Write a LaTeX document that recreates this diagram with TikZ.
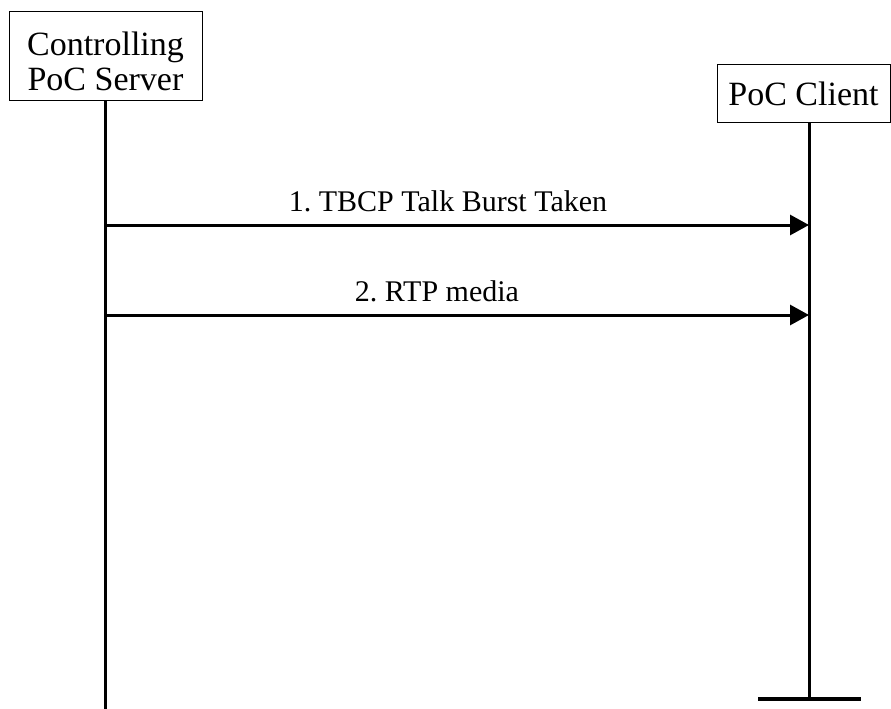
\documentclass[tikz,border=0pt]{standalone}
\usepackage{fontspec}
\setmainfont{Liberation Serif}
\usetikzlibrary{arrows.meta}
\frenchspacing
\begin{document}
\begin{tikzpicture}[x=1pt,y=-1pt,
  entity/.style={draw,line width=1pt,inner sep=0pt,align=center,
    font=\fontsize{34}{36}\selectfont},
  lifeline/.style={line width=3pt},
  msg/.style={line width=3pt,-{Triangle[length=19pt,width=20pt]}},
  msglabel/.style={anchor=base,inner sep=0pt,font=\fontsize{30}{36}\selectfont}]
\useasboundingbox (0,0) rectangle (891,709);
\node[entity,minimum width=193pt,minimum height=88pt] (server) at (105.5,56)
  {\raisebox{-10pt}[\height][\depth]{\begin{tabular}{@{}c@{}}Controlling\\[-1pt]PoC Server\end{tabular}}};
\node[entity,minimum width=173pt,minimum height=57pt] (client) at (803.5,93.5) {PoC Client};
\coordinate (sTop) at (105,100);
\coordinate (sBot) at (105,709);
\coordinate (cTop) at (809,122);
\coordinate (cBot) at (809,699);
\coordinate (barL) at (758,699);
\coordinate (barR) at (861,699);
\draw[lifeline] (sTop) -- (sBot);
\draw[lifeline] (cTop) -- (cBot);
\draw[line width=3.5pt] (barL) -- (barR);
\coordinate (m1s) at (105,225);
\coordinate (m1e) at (809,225);
\coordinate (m2s) at (105,315);
\coordinate (m2e) at (809,315);
\draw[msg] (m1s) -- (m1e);
\draw[msg] (m2s) -- (m2e);
\node[msglabel] (l1) at (448,211) {1. TBCP Talk Burst Taken};
\node[msglabel] (l2) at (437,301) {2. RTP media};
\end{tikzpicture}
\end{document}
